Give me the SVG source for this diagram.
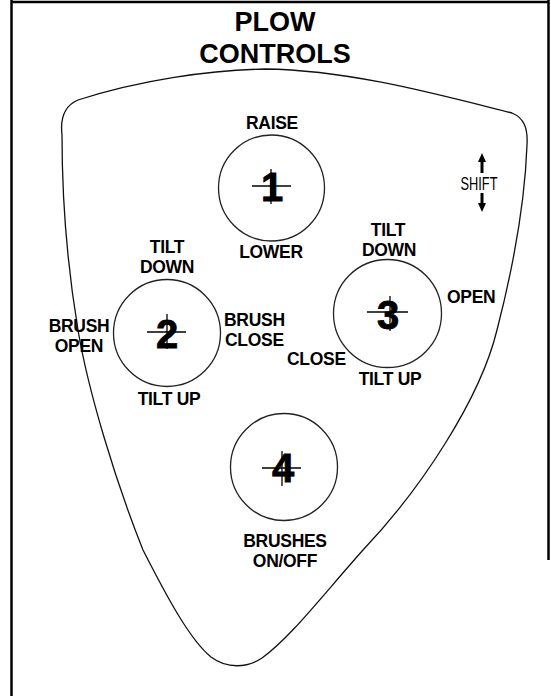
<svg xmlns="http://www.w3.org/2000/svg" width="551" height="696" viewBox="0 0 551 696">
<style>
.lbl{font-family:"Liberation Sans",Arial,sans-serif;font-weight:bold;font-size:17.5px;fill:#000;letter-spacing:-0.3px}
.ttl{font-family:"Liberation Sans",Arial,sans-serif;font-weight:bold;font-size:27px;fill:#000;text-anchor:middle}
.dig{font-family:"Liberation Sans",Arial,sans-serif;font-weight:bold;font-size:40px;fill:#000;stroke:#000;stroke-width:0.8;text-anchor:middle}
.c{text-anchor:middle}
.btn{fill:none;stroke:#222;stroke-width:1.3}
.x{stroke:#000;stroke-width:1.3;fill:none}
.frame{stroke:#000;stroke-width:2.5;fill:none}
</style>
<rect width="551" height="696" fill="#fff"/>
<g id="frame">
<line class="frame" x1="11.5" y1="0" x2="11.5" y2="696"/>
<line class="frame" x1="11" y1="2" x2="549" y2="2"/>
<line class="frame" x1="548.5" y1="0" x2="548.5" y2="560"/>
</g>
<g id="title">
<text class="ttl" x="275" y="31">PLOW</text>
<text class="ttl" x="275" y="63">CONTROLS</text>
</g>
<g id="shield">
<path d="M 62,135 C 60,118 64,106 78,100 C 140,80 210,70 265,69 C 350,70 440,95 512,113 C 524,118 528,128 527,145 C 525,200 515,260 497,330 C 480,400 420,490 363,550 C 322,596 290,638 262,658 C 247,668 227,669 211,657 C 190,640 167,597 143,550 C 115,480 88,390 78,330 C 68,270 62,200 62,135 Z" fill="none" stroke="#111" stroke-width="1.3"/>
</g>
<g id="button-1">
<circle class="btn" cx="271.5" cy="188" r="53"/>
<line class="x" x1="252" y1="186" x2="291" y2="186"/>
<line class="x" x1="271" y1="169" x2="271" y2="204"/>
<text class="dig" x="272" y="201">1</text>
<text class="lbl c" x="272" y="129">RAISE</text>
<text class="lbl c" x="271" y="258">LOWER</text>
</g>
<g id="button-2">
<circle class="btn" cx="167" cy="333" r="53.5"/>
<line class="x" x1="147" y1="332" x2="186" y2="332"/>
<line class="x" x1="167" y1="314" x2="167" y2="349"/>
<text class="dig" x="167" y="348">2</text>
<text class="lbl c" x="167" y="253">TILT</text>
<text class="lbl c" x="167" y="273">DOWN</text>
<text class="lbl c" x="79" y="332">BRUSH</text>
<text class="lbl c" x="79" y="352">OPEN</text>
<text class="lbl" x="224" y="326">BRUSH</text>
<text class="lbl" x="225" y="346">CLOSE</text>
<text class="lbl c" x="169" y="405">TILT UP</text>
</g>
<g id="button-3">
<circle class="btn" cx="387.5" cy="313.5" r="54"/>
<line class="x" x1="367" y1="312" x2="408" y2="312"/>
<line class="x" x1="390" y1="296" x2="390" y2="331"/>
<text class="dig" x="388" y="329">3</text>
<text class="lbl c" x="388" y="236">TILT</text>
<text class="lbl c" x="389" y="256">DOWN</text>
<text class="lbl" x="447" y="303">OPEN</text>
<text class="lbl" x="287" y="365">CLOSE</text>
<text class="lbl c" x="390" y="385">TILT UP</text>
</g>
<g id="button-4">
<circle class="btn" cx="284" cy="467" r="53.5"/>
<line class="x" x1="262" y1="468" x2="301" y2="468"/>
<line class="x" x1="282" y1="451" x2="282" y2="486"/>
<text class="dig" x="283" y="482">4</text>
<text class="lbl c" x="285" y="547">BRUSHES</text>
<text class="lbl c" x="285" y="567">ON/OFF</text>
</g>
<g id="shift">
<text x="479" y="190" font-family="Liberation Sans, Arial, sans-serif" font-size="19" text-anchor="middle" textLength="37" lengthAdjust="spacingAndGlyphs">SHIFT</text>
<line x1="482" y1="160" x2="482" y2="173" stroke="#000" stroke-width="3"/>
<polygon points="482,153 478,162 486,162" fill="#000"/>
<line x1="482" y1="193" x2="482" y2="205" stroke="#000" stroke-width="3"/>
<polygon points="482,212 478,203 486,203" fill="#000"/>
</g>
</svg>
